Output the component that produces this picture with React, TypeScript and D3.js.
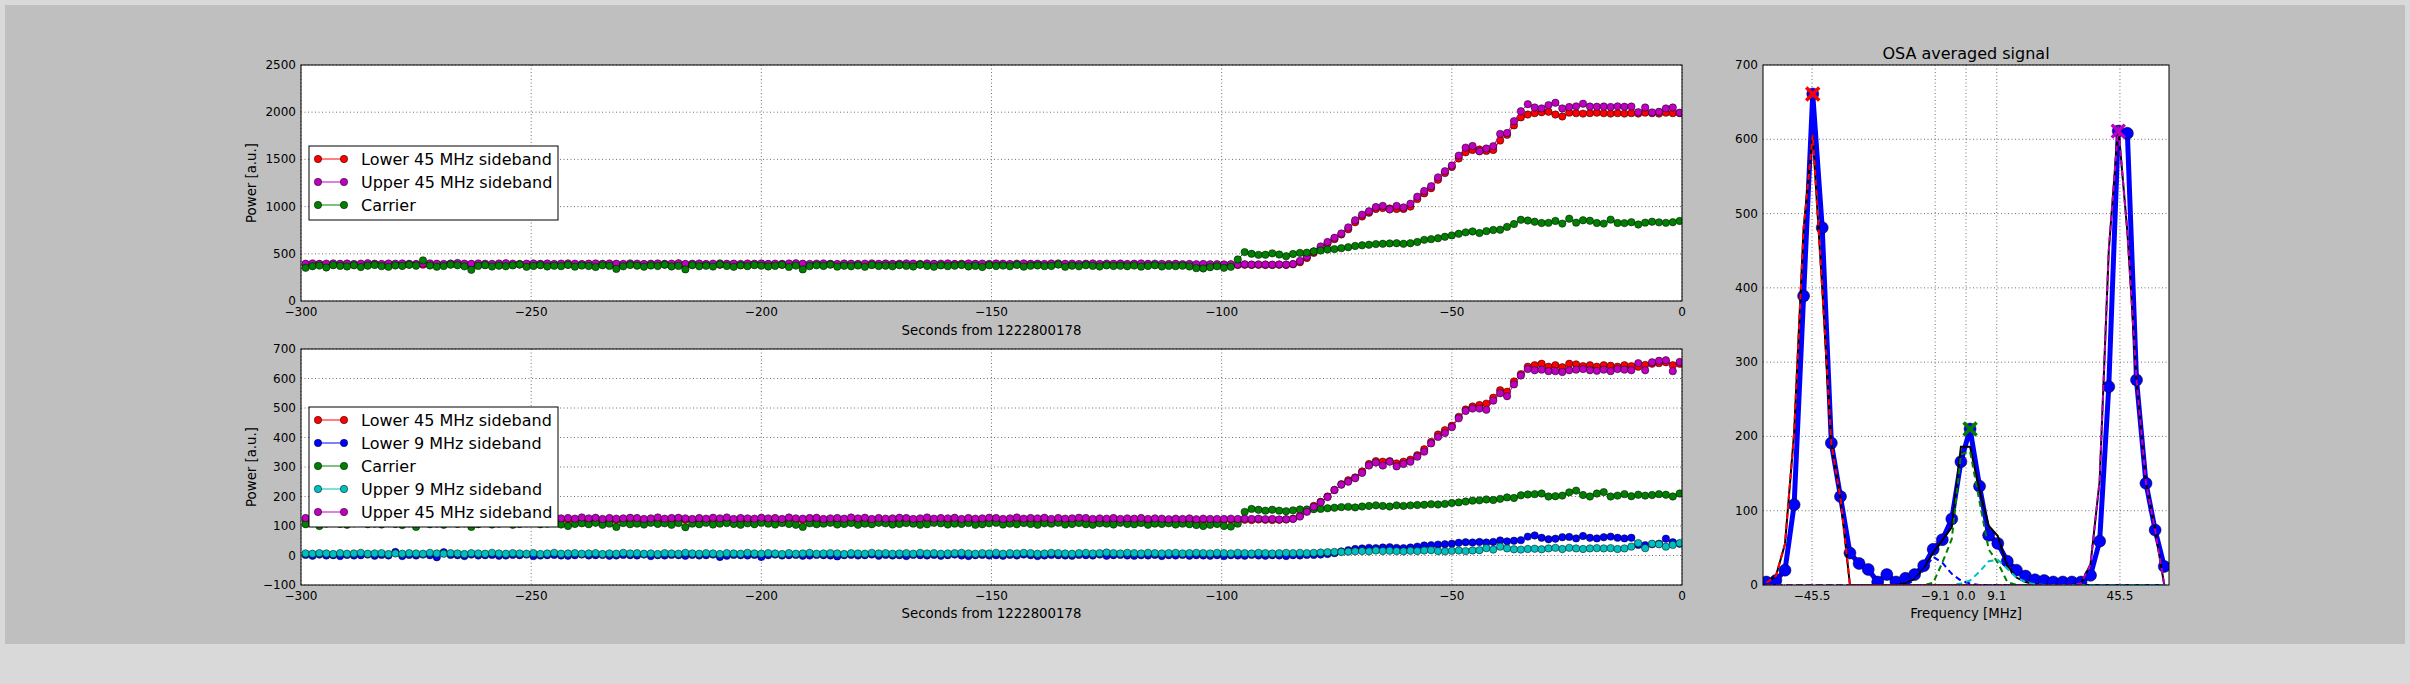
import { useEffect, useRef } from "react";
import * as d3 from "d3";

// sample clock of the monitor time series (seconds from 1222800178)
const T0 = -299;
const DT = 1.5;

// ---- upper panel ----
const topLower45 = [
  388, 385, 390, 386, 383, 389, 387, 384, 388, 386, 391, 385, 387, 389, 384, 386, 388, 385, 390, 387,
  384, 388, 386, 389, 385, 387, 383, 388, 386, 390, 385, 387, 389, 384, 386, 388, 385, 391, 387, 384,
  386, 389, 385, 387, 383, 388, 386, 390, 384, 387, 389, 385, 386, 388, 384, 387, 390, 385, 388, 386,
  383, 387, 389, 385, 386, 388, 384, 390, 387, 385, 388, 386, 389, 384, 387, 385, 388, 386, 383, 389,
  387, 385, 388, 384, 386, 390, 387, 385, 389, 386, 384, 388, 385, 387, 389, 386, 383, 388, 385, 387,
  390, 386, 384, 388, 385, 387, 389, 384, 386, 388, 385, 387, 383, 389, 386, 385, 388, 384, 387, 386,
  389, 385, 387, 384, 386, 383, 385, 382, 384, 381, 383, 380, 382,
  382, 383, 381, 384, 382, 383, 381, 382, 384, 382,
  388, 410, 455, 510, 560, 610, 655, 705, 760, 835,
  895, 935, 975, 985, 980, 975, 975, 1000, 1080, 1140,
  1195, 1285, 1355, 1420, 1510, 1575, 1600, 1605, 1590, 1600,
  1700, 1760, 1860, 1945, 1975, 1990, 2000, 2005, 1975, 1955,
  1995, 1990, 1985, 1990, 1995, 1990, 1985, 1990, 1985, 1990,
  1985, 1995, 1990, 1985, 1995, 1990, 1990,
];

const topUpper45 = [
  395, 398, 393, 396, 399, 394, 397, 392, 396, 400, 395, 393, 397, 395, 398, 394, 392, 396, 399, 395,
  393, 397, 402, 396, 394, 398, 395, 393, 397, 400, 396, 392, 395, 398, 394, 397, 393, 396, 399, 395,
  392, 396, 398, 394, 397, 395, 393, 399, 396, 392, 395, 398, 394, 396, 400, 393, 395, 397, 392, 396,
  399, 394, 396, 393, 397, 395, 398, 392, 396, 394, 397, 400, 395, 393, 396, 398, 394, 392, 397, 395,
  393, 396, 399, 394, 397, 392, 395, 398, 396, 393, 397, 394, 396, 399, 392, 395, 398, 394, 396, 393,
  397, 395, 392, 396, 398, 394, 395, 393, 397, 399, 394, 396, 392, 395, 398, 393, 396, 394, 397, 392,
  395, 398, 394, 396, 393, 392, 394, 391, 393, 390, 392, 389, 391,
  388, 390, 387, 389, 386, 388, 387, 385, 388, 386,
  392, 425, 470, 525, 578, 625, 670, 715, 780, 855,
  915, 950, 995, 1008, 970, 1008, 992, 1030, 1105, 1165,
  1216, 1310, 1375, 1436, 1540, 1625, 1642, 1585, 1615, 1640,
  1770, 1780, 1905, 2010, 2085, 2050, 2040, 2075, 2100, 2040,
  2055, 2062, 2090, 2060, 2058, 2060, 2055, 2062, 2058, 2060,
  2000, 2050, 1998, 2004, 2040, 2050, 1995,
];

const topCarrier = [
  352, 368, 375, 355, 380, 372, 366, 378, 360, 374, 381, 369, 362, 376, 371, 383, 374, 430, 376, 363,
  370, 385, 378, 367, 330, 372, 380, 365, 374, 368, 377, 386, 362, 371, 379, 366, 373, 369, 382, 364,
  375, 370, 360, 378, 372, 340, 367, 381, 374, 363, 376, 370, 384, 366, 372, 335, 379, 368, 373, 365,
  388, 371, 362, 377, 369, 380, 374, 366, 372, 383, 361, 375, 335, 369, 378, 371, 385, 364, 373, 368,
  376, 362, 380, 370, 374, 367, 379, 372, 365, 384, 371, 363, 377, 369, 374, 381, 366, 372, 360, 378,
  370, 375, 368, 382, 364, 373, 376, 369, 371, 386, 362, 374, 367, 379, 372, 365, 377, 370, 373, 368,
  375, 364, 371, 378, 366, 372, 369, 374, 366, 348, 345, 358, 368,
  352, 362, 440, 518, 500, 489, 490, 505, 492, 475,
  498, 510, 512, 525, 535, 545, 550, 560, 570, 583,
  590, 596, 603, 606, 610, 612, 606, 612, 625, 648,
  655, 665, 680, 695, 712, 727, 737, 720, 740, 752,
  755, 785, 815, 860, 852, 840, 826, 828, 848, 820,
  872, 830, 855, 850, 826, 820, 862, 826, 825, 835,
  810, 830, 840, 833, 828, 835, 848,
];

// ---- lower panel ----
const botLower45 = [
  122, 120, 123, 121, 119, 122, 124, 120, 121, 123, 119, 122, 120, 123, 121, 124, 119, 122, 121, 120,
  123, 121, 119, 122, 124, 120, 121, 123, 122, 119, 121, 124, 120, 122, 121, 123, 119, 121, 122, 120,
  124, 121, 123, 119, 122, 120, 121, 123, 122, 119, 121, 124, 120, 122, 123, 121, 119, 122, 120, 123,
  121, 124, 119, 122, 121, 120, 123, 121, 122, 119, 124, 121, 120, 122, 123, 119, 121, 122, 120, 124,
  121, 123, 119, 122, 120, 121, 123, 122, 119, 121, 124, 120, 122, 121, 123, 119, 122, 120, 121, 123,
  122, 119, 121, 124, 120, 122, 121, 123, 119, 122, 120, 121, 123, 122, 119, 121, 120, 122, 119, 121,
  120, 122, 119, 121, 120, 118, 120, 119, 121, 118, 120, 119, 119,
  120, 121, 120, 121, 120, 122, 121, 120, 121, 122,
  125, 135, 150, 168, 182, 200, 222, 242, 255, 265,
  285, 310, 320, 318, 320, 312, 318, 325, 340, 360,
  385, 410, 425, 440, 470, 495, 505, 510, 515, 535,
  560, 555, 590, 615, 640, 645, 650, 640, 645, 638,
  650, 648, 642, 645, 640, 645, 643, 640, 645, 642,
  640, 646, 650, 652, 655, 645, 650,
];

const botLower9 = [
  2, -1, 3, 0, 1, -2, 2, 0, 1, 3, -1, 2, 0, 12, -2, 2, 0, 3, 1, -6,
  11, 2, 1, -2, 3, 0, 1, 2, -1, 0, 2, 1, 3, -2, 0, 1, 2, 0, -1, 1,
  3, 0, 1, 2, -1, 0, 2, 1, 0, 3, -2, 1, 0, 2, 1, -1, 2, 0, 1, 3,
  -5, -1, 2, 1, 0, 2, -5, 1, 3, 0, 1, 2, -1, 0, 2, 1, 0, -3, 1, 2,
  0, 1, 3, -1, 2, 0, 1, -2, 2, 1, 0, 2, -1, 1, 3, 0, -2, 1, 2, 0,
  1, -1, 2, 0, 3, 1, -2, 0, 2, 1, 0, -1, 2, 1, 0, 3, -1, 1, 2, 0,
  -1, 1, 0, 2, -2, 1, 0, 2, -1, 1, 0, -1, 1,
  -2, 1, 0, -1, 2, 0, -1, 1, 0, -2,
  1, 0, 2, 2, 3, 5, 8, 14, 18, 22,
  24, 26, 25, 27, 28, 26, 25, 27, 30, 34,
  35, 37, 38, 40, 43, 45, 44, 46, 44, 46,
  51, 48, 50, 52, 64, 68, 60, 55, 57, 62,
  63, 58, 66, 60, 58, 62, 64, 60, 58, 60,
  36, 35, 38, 40, 57, 45, 40,
];

const botCarrier = [
  106, 110, 100, 108, 111, 107, 104, 109, 112, 106, 108, 105, 110, 107, 103, 109, 97, 111, 106, 108,
  104, 110, 107, 109, 97, 106, 111, 105, 108, 110, 104, 107, 109, 112, 106, 108, 110, 105, 100, 107,
  109, 106, 111, 104, 108, 97, 110, 106, 108, 105, 111, 107, 109, 104, 110, 96, 108, 106, 111, 105,
  108, 110, 107, 104, 109, 106, 111, 108, 105, 110, 107, 104, 97, 109, 106, 108, 111, 105, 107, 110,
  104, 108, 106, 111, 109, 105, 107, 110, 108, 104, 106, 111, 109, 105, 108, 107, 110, 104, 106, 109,
  111, 105, 108, 106, 110, 107, 104, 109, 108, 111, 105, 107, 110, 106, 104, 109, 108, 105, 111, 107,
  106, 110, 104, 108, 107, 109, 105, 108, 106, 103, 100, 104, 107,
  100, 98, 108, 148, 158, 155, 152, 155, 152, 150,
  153, 156, 156, 157, 158, 160, 162, 164, 165, 163,
  166, 168, 170, 168, 166, 170, 168, 170, 171, 172,
  174, 173, 175, 178, 180, 183, 186, 187, 190, 188,
  192, 197, 195, 204, 207, 208, 210, 200, 201, 203,
  214, 220, 205, 200, 210, 215, 200, 203, 208, 201,
  206, 203, 205, 208, 206, 200, 210,
];

const botUpper9 = [
  7, 6, 8, 7, 5, 8, 6, 7, 9, 6, 7, 8, 5, 7, 6, 8, 7, 6, 9, 7,
  6, 8, 7, 5, 8, 7, 6, 9, 7, 6, 8, 7, 6, 8, 5, 7, 9, 6, 7, 8,
  6, 7, 8, 5, 7, 6, 9, 7, 8, 6, 7, 5, 8, 7, 6, 9, 7, 6, 8, 7,
  5, 8, 7, 6, 9, 7, 6, 8, 7, 5, 8, 6, 7, 9, 6, 7, 8, 7, 5, 8,
  7, 6, 9, 7, 8, 6, 7, 8, 6, 9, 7, 8, 6, 7, 8, 9, 7, 6, 8, 7,
  9, 6, 8, 7, 9, 8, 6, 7, 9, 8, 7, 6, 8, 9, 7, 8, 10, 8, 7, 9,
  8, 7, 9, 8, 7, 8, 9, 7, 8, 9, 8, 7, 9,
  8, 7, 9, 8, 7, 9, 8, 7, 8, 9,
  8, 9, 8, 9, 10, 11, 12, 12, 13, 14,
  15, 14, 17, 15, 16, 15, 14, 16, 15, 17,
  18, 15, 14, 16, 17, 15, 17, 18, 25, 20,
  30, 24, 21, 20, 22, 23, 21, 24, 26, 22,
  26, 24, 22, 24, 25, 24, 25, 22, 24, 30,
  42, 25, 40, 38, 30, 36, 42,
];

const botUpper45 = [
  127, 125, 128, 126, 124, 127, 129, 125, 126, 128, 124, 127, 125, 128, 126, 129, 124, 127, 126, 125,
  128, 126, 124, 127, 129, 125, 126, 128, 127, 124, 126, 129, 125, 127, 126, 128, 124, 126, 127, 125,
  129, 126, 128, 124, 127, 125, 126, 128, 127, 124, 126, 129, 125, 127, 128, 126, 124, 127, 125, 128,
  126, 129, 124, 127, 126, 125, 128, 126, 127, 124, 129, 126, 125, 127, 128, 124, 126, 127, 125, 129,
  126, 128, 124, 127, 125, 126, 128, 127, 124, 126, 129, 125, 127, 126, 128, 124, 127, 125, 126, 128,
  127, 124, 126, 129, 125, 127, 126, 128, 124, 127, 125, 126, 128, 127, 124, 126, 125, 127, 124, 126,
  125, 127, 124, 126, 125, 123, 125, 124, 126, 123, 125, 124, 124,
  124, 125, 124, 125, 124, 125, 123, 124, 122, 123,
  124, 132, 148, 165, 180, 198, 222, 240, 250, 262,
  280, 305, 315, 305, 318, 302, 310, 318, 335, 352,
  380, 402, 415, 435, 465, 490, 498, 498, 494, 525,
  550, 540, 580, 610, 632, 628, 630, 625, 625, 622,
  628, 630, 632, 628, 626, 630, 625, 632, 630, 628,
  652, 628, 655, 660, 662, 625, 656,
];

// ---- OSA averaged signal ----
const osaFreq = [
  -59.0, -56.2, -53.5, -50.8, -48.0, -45.3, -42.5, -39.8, -37.1, -34.3, -31.6,
  -28.9, -26.1, -23.4, -20.7, -17.9, -15.2, -12.5, -9.7, -7.0, -4.2, -1.5,
  1.2, 4.0, 6.7, 9.4, 12.2, 14.9, 17.6, 20.4, 23.1, 25.8, 28.6,
  31.3, 34.0, 36.8, 39.5, 42.2, 45.0, 47.7, 50.4, 53.2, 55.9, 58.6,
];
const osaSignal = [
  4, 6, 20, 108, 389, 661, 481, 191, 119, 43, 29,
  21, 4, 14, 4, 9, 14, 26, 48, 61, 89, 166,
  210, 133, 67, 56, 32, 20, 12, 7, 6, 4, 4,
  4, 4, 13, 59, 267, 611, 608, 276, 137, 74, 25,
];
const osaFitTotal = [
  3, 12, 55, 205, 480, 606, 400, 190, 117, 0, 0,
  0, 0, 0, 0, 2, 8, 22, 44, 60, 78, 186,
  186, 128, 80, 66, 26, 10, 4, 1, 0, 0, 0,
  0, 2, 28, 140, 450, 618, 475, 276, 137, 74, 0,
];
const osaFitLower45 = [
  3, 12, 55, 205, 480, 606, 400, 190, 117, 0, 0,
  0, 0, 0, 0, 0, 0, 0, 0, 0, 0, 0,
  0, 0, 0, 0, 0, 0, 0, 0, 0, 0, 0,
  0, 0, 0, 0, 0, 0, 0, 0, 0, 0, 0,
];
const osaFitLower9 = [
  0, 0, 0, 0, 0, 0, 0, 0, 0, 0, 0,
  0, 0, 0, 0, 0, 6, 20, 38, 30, 15, 6,
  2, 0, 0, 0, 0, 0, 0, 0, 0, 0, 0,
  0, 0, 0, 0, 0, 0, 0, 0, 0, 0, 0,
];
const osaFitCarrier = [
  0, 0, 0, 0, 0, 0, 0, 0, 0, 0, 0,
  0, 0, 0, 0, 0, 0, 0, 3, 30, 62, 176,
  180, 112, 48, 30, 4, 0, 0, 0, 0, 0, 0,
  0, 0, 0, 0, 0, 0, 0, 0, 0, 0, 0,
];
const osaFitUpper9 = [
  0, 0, 0, 0, 0, 0, 0, 0, 0, 0, 0,
  0, 0, 0, 0, 0, 0, 0, 0, 0, 0, 2,
  6, 18, 32, 34, 22, 10, 4, 1, 0, 0, 0,
  0, 0, 0, 0, 0, 0, 0, 0, 0, 0, 0,
];
const osaFitUpper45 = [
  0, 0, 0, 0, 0, 0, 0, 0, 0, 0, 0,
  0, 0, 0, 0, 0, 0, 0, 0, 0, 0, 0,
  0, 0, 0, 0, 0, 0, 0, 0, 0, 0, 0,
  0, 2, 28, 140, 450, 618, 475, 276, 137, 74, 0,
];
const peakFreq = [-45.3, 1.2, 45.0];
const peakPower = [661, 210, 611];

// ticks
const timeTicks = [-300, -250, -200, -150, -100, -50, 0];
const topPowerTicks = [0, 500, 1000, 1500, 2000, 2500];
const botPowerTicks = [-100, 0, 100, 200, 300, 400, 500, 600, 700];
const osaPowerTicks = [0, 100, 200, 300, 400, 500, 600, 700];
const osaFreqTicks = [-45.5, -9.1, 0.0, 9.1, 45.5];

const C = { r: "#ff0000", m: "#bf00bf", g: "#008000", b: "#0000ff", c: "#00bfbf", k: "#000000" };
const FONT = "'DejaVu Sans', sans-serif";
const W = 2410;
const H = 684;

type Sel = d3.Selection<SVGGElement, unknown, null, undefined>;
type Lin = d3.ScaleLinear<number, number>;

const App = () => {
  const svgRef = useRef<SVGSVGElement | null>(null);

  useEffect(() => {
    if (!svgRef.current) return;
    const svg = d3.select(svgRef.current);
    svg.selectAll("*").remove();

    svg.append("rect").attr("width", W).attr("height", H).attr("fill", "#d9d9d9");
    svg.append("rect").attr("x", 5).attr("y", 5).attr("width", 2400).attr("height", 639).attr("fill", "#bfbfbf");
    const defs = svg.append("defs");
    const root = svg.append("g") as unknown as Sel;

    const xTime = d3.scaleLinear().domain([-300, 0]).range([301, 1682]);
    const yTop = d3.scaleLinear().domain([0, 2500]).range([301, 65]);
    const yBot = d3.scaleLinear().domain([-100, 700]).range([585, 349]);
    const xFreq = d3.scaleLinear().domain([-60, 60]).range([1763, 2169]);
    const yOsa = d3.scaleLinear().domain([0, 700]).range([585, 65]);

    const fmtInt = d3.format("d");
    const fmtOne = d3.format(".1f");

    // background, grid and clip of one axes; returns the group to plot into
    const axesBody = (id: string, x: Lin, y: Lin, xt: number[], yt: number[]) => {
      const [x0, x1] = x.range();
      const [y1, y0] = y.range();
      defs.append("clipPath").attr("id", id)
        .append("rect").attr("x", x0).attr("y", y0).attr("width", x1 - x0).attr("height", y1 - y0);
      const g = root.append("g");
      g.append("rect").attr("x", x0).attr("y", y0).attr("width", x1 - x0).attr("height", y1 - y0).attr("fill", "#fff");
      const grid = g.append("g").attr("stroke", "#333").attr("stroke-width", 0.7).attr("stroke-dasharray", "1,2.5");
      xt.forEach((t) => grid.append("line").attr("x1", x(t)).attr("x2", x(t)).attr("y1", y0).attr("y2", y1));
      yt.forEach((t) => grid.append("line").attr("x1", x0).attr("x2", x1).attr("y1", y(t)).attr("y2", y(t)));
      return g.append("g").attr("clip-path", `url(#${id})`);
    };

    const axesFrame = (x: Lin, y: Lin, xt: number[], yt: number[], fx: (n: number) => string, fy: (n: number) => string) => {
      const [x0, x1] = x.range();
      const [y1, y0] = y.range();
      const g = root.append("g").attr("font-family", FONT).attr("font-size", 12).attr("fill", "#000");
      g.append("rect").attr("x", x0).attr("y", y0).attr("width", x1 - x0).attr("height", y1 - y0)
        .attr("fill", "none").attr("stroke", "#000").attr("stroke-width", 1);
      xt.forEach((t) => g.append("text").attr("x", x(t)).attr("y", y1 + 15).attr("text-anchor", "middle").text(fx(t)));
      yt.forEach((t) => g.append("text").attr("x", x0 - 5).attr("y", y(t) + 4).attr("text-anchor", "end").text(fy(t)));
    };

    const timeSeries = (g: Sel, x: Lin, y: Lin, values: number[], color: string) => {
      const pts: [number, number][] = values.map((v, i) => [x(T0 + DT * i), y(v)]);
      g.append("path").attr("d", d3.line()(pts)).attr("fill", "none").attr("stroke", color).attr("stroke-width", 1);
      g.append("g").selectAll("circle").data(pts).join("circle")
        .attr("cx", (d) => d[0]).attr("cy", (d) => d[1]).attr("r", 3.7)
        .attr("fill", color).attr("stroke", "#000").attr("stroke-width", 0.5);
    };

    const legend = (x0: number, cy: number, entries: [string, string][]) => {
      const h = 28 + 23 * (entries.length - 1);
      const left = x0 + 8;
      const top = cy - h / 2;
      const g = root.append("g").attr("font-family", FONT).attr("font-size", 16);
      g.append("rect").attr("x", left).attr("y", top).attr("width", 249).attr("height", h)
        .attr("fill", "#fff").attr("stroke", "#000").attr("stroke-width", 1);
      entries.forEach(([label, color], k) => {
        const yy = top + 13 + 23 * k;
        g.append("line").attr("x1", left + 9).attr("x2", left + 35).attr("y1", yy).attr("y2", yy)
          .attr("stroke", color).attr("stroke-width", 1);
        [left + 9, left + 35].forEach((cx) =>
          g.append("circle").attr("cx", cx).attr("cy", yy).attr("r", 3.7)
            .attr("fill", color).attr("stroke", "#000").attr("stroke-width", 0.5));
        g.append("text").attr("x", left + 52).attr("y", yy + 5.8).text(label);
      });
    };

    const labels = root.append("g").attr("font-family", FONT).attr("font-size", 13.3).attr("fill", "#000");
    const xLabel = (text: string, x: Lin, yb: number) =>
      labels.append("text").attr("x", (x.range()[0] + x.range()[1]) / 2).attr("y", yb).attr("text-anchor", "middle").text(text);
    const yLabel = (text: string, xb: number, y: Lin) => {
      const cy = (y.range()[0] + y.range()[1]) / 2;
      labels.append("text").attr("transform", `translate(${xb},${cy}) rotate(-90)`).attr("text-anchor", "middle").text(text);
    };

    // upper time series
    const pTop = axesBody("clipTop", xTime, yTop, timeTicks, topPowerTicks);
    timeSeries(pTop, xTime, yTop, topLower45, C.r);
    timeSeries(pTop, xTime, yTop, topUpper45, C.m);
    timeSeries(pTop, xTime, yTop, topCarrier, C.g);
    axesFrame(xTime, yTop, timeTicks, topPowerTicks, fmtInt, fmtInt);
    legend(301, (65 + 301) / 2, [
      ["Lower 45 MHz sideband", C.r],
      ["Upper 45 MHz sideband", C.m],
      ["Carrier", C.g],
    ]);
    xLabel("Seconds from 1222800178", xTime, 335);
    yLabel("Power [a.u.]", 256, yTop);

    // lower time series
    const pBot = axesBody("clipBot", xTime, yBot, timeTicks, botPowerTicks);
    timeSeries(pBot, xTime, yBot, botLower45, C.r);
    timeSeries(pBot, xTime, yBot, botLower9, C.b);
    timeSeries(pBot, xTime, yBot, botCarrier, C.g);
    timeSeries(pBot, xTime, yBot, botUpper9, C.c);
    timeSeries(pBot, xTime, yBot, botUpper45, C.m);
    axesFrame(xTime, yBot, timeTicks, botPowerTicks, fmtInt, fmtInt);
    legend(301, (349 + 585) / 2, [
      ["Lower 45 MHz sideband", C.r],
      ["Lower 9 MHz sideband", C.b],
      ["Carrier", C.g],
      ["Upper 9 MHz sideband", C.c],
      ["Upper 45 MHz sideband", C.m],
    ]);
    xLabel("Seconds from 1222800178", xTime, 618);
    yLabel("Power [a.u.]", 256, yBot);

    // OSA spectrum
    const pOsa = axesBody("clipOsa", xFreq, yOsa, osaFreqTicks, osaPowerTicks);
    const osaLine = (vals: number[]) =>
      d3.line()(vals.map((v, i) => [xFreq(osaFreq[i]), yOsa(v)] as [number, number]));
    pOsa.append("path").attr("d", osaLine(osaSignal)).attr("fill", "none").attr("stroke", C.b).attr("stroke-width", 5);
    pOsa.append("g").selectAll("circle").data(osaSignal).join("circle")
      .attr("cx", (_, i) => xFreq(osaFreq[i])).attr("cy", (d) => yOsa(d)).attr("r", 6)
      .attr("fill", C.b).attr("stroke", "#000").attr("stroke-width", 0.5);
    pOsa.append("path").attr("d", osaLine(osaFitTotal)).attr("fill", "none").attr("stroke", C.k).attr("stroke-width", 2);
    ([
      [osaFitLower45, C.r],
      [osaFitLower9, C.b],
      [osaFitCarrier, C.g],
      [osaFitUpper9, C.c],
      [osaFitUpper45, C.m],
    ] as [number[], string][]).forEach(([vals, color]) =>
      pOsa.append("path").attr("d", osaLine(vals)).attr("fill", "none").attr("stroke", color)
        .attr("stroke-width", 2).attr("stroke-dasharray", "6,4"));
    const peakColors = [C.r, C.g, C.m];
    peakFreq.forEach((f, i) => {
      const cx = xFreq(f);
      const cy = yOsa(peakPower[i]);
      const s = 6.5;
      pOsa.append("path").attr("d", `M${cx - s},${cy - s}L${cx + s},${cy + s}M${cx - s},${cy + s}L${cx + s},${cy - s}`)
        .attr("stroke", peakColors[i]).attr("stroke-width", 3.5);
    });
    axesFrame(xFreq, yOsa, osaFreqTicks, osaPowerTicks, fmtOne, fmtInt);
    xLabel("Frequency [MHz]", xFreq, 618);
    root.append("text").attr("x", (1763 + 2169) / 2).attr("y", 59).attr("text-anchor", "middle")
      .attr("font-family", FONT).attr("font-size", 16).text("OSA averaged signal");
  }, []);

  return (
    <div style={{ position: "absolute", left: 0, top: 0 }}>
      <svg ref={svgRef} width={W} height={H} style={{ display: "block" }}></svg>
    </div>
  );
};

export default App;
